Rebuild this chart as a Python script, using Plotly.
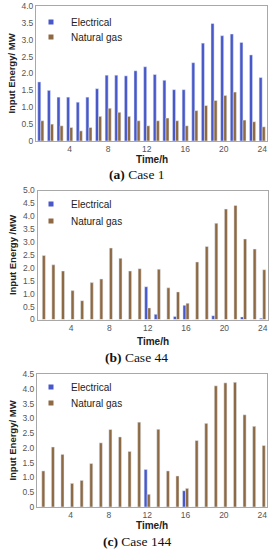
import plotly.graph_objects as go

hours = list(range(1, 25))
x_ticks = [4, 8, 12, 16, 20, 24]

# Case 1
case1_elec = [1.75, 1.5, 1.3, 1.3, 1.15, 1.3, 1.55, 1.95, 1.95, 1.93, 2.08, 2.2,
              1.97, 1.8, 1.52, 1.52, 2.32, 2.9, 3.48, 3.12, 3.17, 2.92, 2.55, 1.88]
case1_gas = [0.6, 0.5, 0.45, 0.4, 0.3, 0.4, 0.73, 0.97, 0.85, 0.73, 0.6, 0.45,
             0.6, 0.68, 0.6, 0.45, 0.9, 1.05, 1.2, 1.35, 1.45, 0.62, 0.57, 0.42]
# Case 44
case44_elec = [0, 0, 0, 0, 0, 0, 0, 0, 0, 0, 0, 1.27,
               0.2, 0, 0.12, 0.55, 0, 0, 0.15, 0, 0, 0.1, 0, 0.05]
case44_gas = [2.48, 2.12, 1.88, 1.12, 0.73, 1.43, 1.57, 2.77, 2.37, 1.88, 1.97, 0.45,
              1.95, 1.23, 1.07, 0.63, 2.23, 2.83, 3.73, 4.28, 4.42, 3.12, 2.73, 1.93]
# Case 144
case144_elec = [0, 0, 0, 0, 0, 0, 0, 0, 0, 0, 0, 1.27,
                0, 0, 0, 0.55, 0, 0, 0, 0, 0, 0, 0, 0]
case144_gas = [1.22, 2.03, 1.78, 0.8, 0.9, 1.47, 2.17, 2.62, 2.37, 1.88, 2.87, 0.43,
               2.63, 1.22, 1.05, 0.63, 2.25, 2.83, 4.1, 4.2, 4.22, 3.12, 2.73, 2.08]

y_max = [4.0, 5.0, 4.5]
y_titles = ["Input Energy/ MW", "Input Energy /MW", "Input Energy/ MW"]
captions = ["<b>(a)</b> Case 1", "<b>(b)</b> Case 44", "<b>(c)</b> Case 144"]
series_names = ["Electrical", "Natural gas"]

ELEC = "#4858C8"
GAS = "#8E6A44"
W, H = 273, 550

# panel geometry in pixels (top, bottom, left, right)
panels = [(6, 141, 36, 267), (190.5, 319.5, 37.5, 267.5), (374, 507, 37, 267)]
legend_centers = [(22, 37), (204, 221), (387, 403)]
xtitle_y = [159, 341, 525]
caption_y = [174, 357, 541]

data = [(case1_elec, case1_gas), (case44_elec, case44_gas), (case144_elec, case144_gas)]

fig = go.Figure()
layout = {}
annotations = []
leg_idx = 0
for i, (elec, gas) in enumerate(data):
    sfx = "" if i == 0 else str(i + 1)
    xa, ya = "x" + sfx, "y" + sfx
    fig.add_trace(go.Bar(x=hours, y=elec, marker_color=ELEC, name=series_names[0],
                         xaxis=xa, yaxis=ya, showlegend=False, offsetgroup="e"))
    fig.add_trace(go.Bar(x=hours, y=gas, marker_color=GAS, name=series_names[1],
                         xaxis=xa, yaxis=ya, showlegend=False, offsetgroup="g"))
    for j, (nm, col) in enumerate(zip(series_names, [ELEC, GAS])):
        leg_idx += 1
        lg = "legend" if leg_idx == 1 else f"legend{leg_idx}"
        fig.add_trace(go.Scatter(x=[None], y=[None], mode="markers", name=nm,
                                 marker=dict(symbol="square", size=5, color=col),
                                 xaxis=xa, yaxis=ya, legend=lg, showlegend=True))
        layout[lg] = dict(
            x=31 / W, y=1 - legend_centers[i][j] / H, xanchor="left", yanchor="middle",
            bgcolor="rgba(0,0,0,0)",
            font=dict(size=10, color="#222222", family="Liberation Sans"),
            tracegroupgap=0, itemwidth=30,
        )
    top, bot, left, right = panels[i]
    ymax = y_max[i]
    n = int(round(ymax / 0.5))
    tv = [k * 0.5 for k in range(n + 1)]
    tt = ["0"] + [f"{v:.1f}" for v in tv[1:]]
    layout["xaxis" + sfx] = dict(
        domain=[left / W, right / W], anchor=ya, range=[0.5, 24.5],
        tickvals=x_ticks, ticktext=[str(t) for t in x_ticks],
        tickfont=dict(size=8.5, color="#555555", family="Liberation Sans"),
        showline=True, linecolor="#A8A8A8", linewidth=1, mirror=True,
        ticks="", showgrid=False, zeroline=False, fixedrange=True, automargin=False,
    )
    layout["yaxis" + sfx] = dict(
        domain=[1 - bot / H, 1 - top / H], anchor=xa, range=[0, ymax],
        tickvals=tv, ticktext=tt,
        tickfont=dict(size=8.5, color="#555555", family="Liberation Sans"),
        showline=True, linecolor="#A8A8A8", linewidth=1, mirror=True,
        ticks="", showgrid=False, zeroline=False, fixedrange=True, automargin=False,
        title=dict(text="<b>" + y_titles[i] + "</b>", standoff=4,
                   font=dict(size=9.5, color="#222222", family="Liberation Sans")),
    )
    annotations.append(dict(
        text="<b>Time/h</b>", x=(left + right) / 2 / W, y=1 - xtitle_y[i] / H,
        xref="paper", yref="paper", showarrow=False, xanchor="center", yanchor="middle",
        font=dict(size=10, color="#222222", family="Liberation Sans"),
    ))
    annotations.append(dict(
        text=captions[i], x=0.5, y=1 - caption_y[i] / H,
        xref="paper", yref="paper", showarrow=False, xanchor="center", yanchor="middle",
        font=dict(size=13.5, color="#111111", family="Liberation Serif"),
    ))

fig.update_layout(
    width=W, height=H, margin=dict(l=0, r=0, t=0, b=0, autoexpand=False),
    paper_bgcolor="white", plot_bgcolor="white",
    barmode="group", bargap=0.36, bargroupgap=0.0,
    annotations=annotations, **layout,
)
fig.write_html(
    "out.html",
    config={"displayModeBar": False},
    post_script="document.body.style.margin='0px';document.body.style.overflow='hidden';",
)
